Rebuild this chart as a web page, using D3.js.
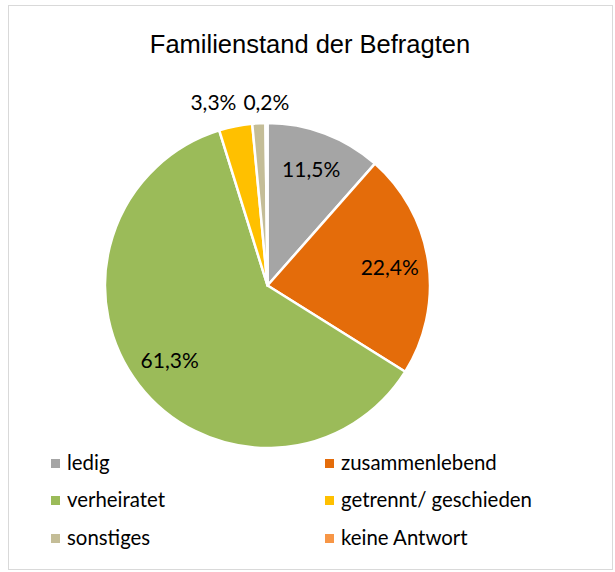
<!DOCTYPE html>
<html><head><meta charset="utf-8">
<script src="https://cdn.jsdelivr.net/npm/d3@7"></script>
<style>body{margin:0;background:#fff}</style>
</head><body>
<svg id="c" width="615" height="572"></svg>
<script>
const categories = ["ledig","zusammenlebend","verheiratet","getrennt/ geschieden","sonstiges","keine Antwort"];
const values = [11.5, 22.4, 61.3, 3.3, 1.3, 0.2];
const colors = ["#a5a5a5","#e46c0a","#9bbb59","#ffc000","#c4bd97","#f79646"];
const showLabel = [true, true, true, true, false, true];
const title = "Familienstand der Befragten";

const svg = d3.select("#c");
svg.append("rect").attr("x",8.5).attr("y",5.5).attr("width",604).attr("height",564)
  .attr("fill","#fff").attr("stroke","#d9d9d9").attr("stroke-width",1);

svg.append("text").attr("x",310).attr("y",53).attr("text-anchor","middle")
  .attr("font-family","Liberation Sans, Arial, sans-serif").attr("font-size",25.5).attr("fill","#000")
  .text(title);

const cx = 267.5, cy = 285.5, r = 162.5;
const pie = d3.pie().sort(null).value(d=>d);
const arcs = pie(values);
const arc = d3.arc().innerRadius(0).outerRadius(r);
const g = svg.append("g").attr("transform",`translate(${cx},${cy})`);
g.selectAll("path").data(arcs).join("path")
  .attr("d",arc).attr("fill",(d,i)=>colors[i])
  .attr("stroke","#fff").attr("stroke-width",2.5).attr("stroke-linejoin","round");

const fmt = v => d3.format(".1f")(v).replace(".",",") + "%";
const fontF = "Lato, Carlito, Calibri, sans-serif";
const labArc = d3.arc().innerRadius(r*0.76).outerRadius(r*0.76);
const outArc = d3.arc().innerRadius(r*1.1).outerRadius(r*1.1);
const outside = [];
arcs.forEach((d,i)=>{
  if(!showLabel[i]) return;
  if (values[i] > 5) {
    const c = labArc.centroid(d);
    g.append("text").attr("x",c[0]).attr("y",c[1]).attr("dy","0.35em").attr("text-anchor","middle")
      .attr("font-family",fontF).attr("font-size",21).attr("fill","#000").text(fmt(values[i]));
  } else {
    const c = outArc.centroid(d);
    const t = g.append("text").attr("x",c[0]).attr("y",-r-20).attr("dy","0.35em").attr("text-anchor","middle")
      .attr("font-family",fontF).attr("font-size",21).attr("fill","#000").text(fmt(values[i]));
    outside.push(t);
  }
});
// resolve overlaps of outside labels: shift earlier ones left
for (let k = outside.length - 2; k >= 0; k--) {
  const a = outside[k], b = outside[k+1];
  const wa = a.node().getComputedTextLength(), wb = b.node().getComputedTextLength();
  const bLeft = +b.attr("x") - wb/2;
  const aRight = +a.attr("x") + wa/2;
  if (aRight > bLeft - 7) a.attr("x", bLeft - 7 - wa/2);
}

const legX = [51, 325], legY = [463, 500, 538];
categories.forEach((c,i)=>{
  const col = i % 2, row = Math.floor(i/2);
  const lg = svg.append("g").attr("transform",`translate(${legX[col]},${legY[row]})`);
  lg.append("rect").attr("x",0).attr("y",-4).attr("width",9).attr("height",9).attr("fill",colors[i]);
  lg.append("text").attr("x",16).attr("y",0).attr("dy","0.35em")
    .attr("font-family",fontF).attr("font-size",20.4).attr("fill","#000").text(c);
});
</script>
</body></html>
